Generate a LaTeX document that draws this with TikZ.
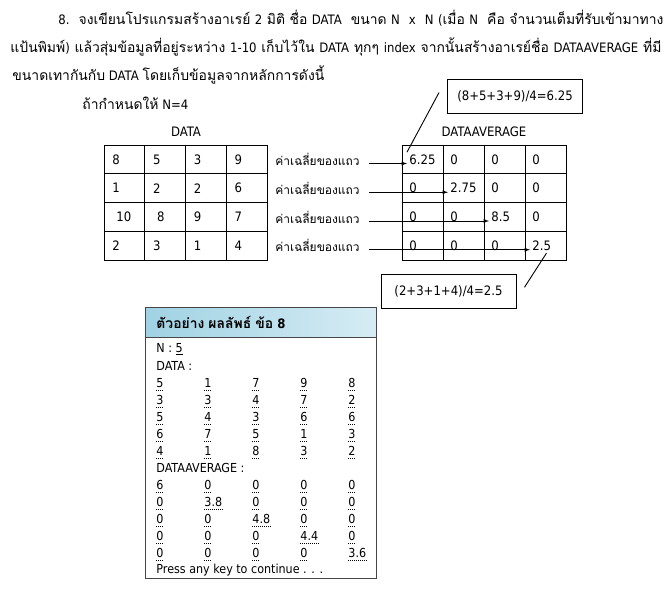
\documentclass[tikz,border=0pt]{standalone}
\usepackage{fontspec}
\setmainfont{DejaVu Sans Condensed}
\newfontfamily\thaibig[Script=Thai, Scale=1.07]{Loma}
\newfontfamily\thaismall[Script=Thai, Scale=0.92]{Loma}
\let\thaifont\thaismall
\XeTeXinterchartokenstate = 1
\newXeTeXintercharclass\thaiclass
\count255 = "0E00
\loop
  \XeTeXcharclass\count255 = \thaiclass
  \ifnum\count255 < "0E7F \advance\count255 by 1
\repeat
\XeTeXinterchartoks 0 \thaiclass = {\begingroup\thaifont}
\XeTeXinterchartoks 4095 \thaiclass = {\begingroup\thaifont}
\XeTeXinterchartoks \thaiclass 0 = {\endgroup}
\XeTeXinterchartoks \thaiclass 4095 = {\endgroup}
\usetikzlibrary{arrows}
\usetikzlibrary{positioning}
\tikzset{para/.style = {anchor = west, inner sep = 0, font = \fontsize{13}{15}\selectfont\let\thaifont\thaibig}}
\tikzset{cell/.style = {anchor = west, inner sep = 2pt}}
\tikzset{rowlab/.style = {anchor = west, inner sep = 0}}
\tikzset{fbox/.style = {draw, minimum width = 135, minimum height = 34, inner sep = 0}}
\tikzset{con/.style = {anchor = west, inner sep = 0, font = \fontsize{12.4}{14}\selectfont}}
\tikzset{dotu/.style = {dash pattern = on 0.8pt off 1.2pt, line width = 0.6pt}}
\definecolor{hblue}{RGB}{160, 210, 227}
\definecolor{hpale}{RGB}{214, 236, 244}
\definecolor{bgray}{RGB}{70, 70, 70}

\begin{document}
\begin{tikzpicture}[x = 1pt, y = -1pt, line width = 0.9pt, font = \fontsize{13}{15}\selectfont]
      \useasboundingbox (0, 0) rectangle (671, 596);
      \node [para] (p1) at (58, 18) {\makebox[605pt][s]{8.\ \ จงเขียนโปรแกรมสร้างอาเรย์ 2 มิติ ชื่อ DATA \ ขนาด N \ x \ N (เมื่อ N \ คือ จำนวนเต็มที่รับเข้ามาทาง}};
      \node [para] (p2) at (10, 47) {\makebox[651pt][s]{แป้นพิมพ์) แล้วสุ่มข้อมูลที่อยู่ระหว่าง 1-10 เก็บไว้ใน DATA ทุกๆ index จากนั้นสร้างอาเรย์ชื่อ DATAAVERAGE ที่มี}};
      \node [para] (p3) at (12, 75) {ขนาดเทากันกับ DATA โดยเก็บข้อมูลจากหลักการดังนี้};
      \node [para] (p4) at (82, 103) {ถ้ากำหนดให้ N=4};

      \node (t1) at (186, 132) {DATA};
      \node (t2) at (484, 132) {DATAAVERAGE};

      \draw (104, 145) rectangle (267, 260);
      \draw (402, 145) rectangle (566, 260);
      \foreach \i in {1, 2, 3} {
        \draw ({104 + 40.75*\i}, 145) -- ({104 + 40.75*\i}, 260);
        \draw (104, {145 + 28.75*\i}) -- (267, {145 + 28.75*\i});
        \draw ({402 + 41*\i}, 145) -- ({402 + 41*\i}, 260);
        \draw (402, {145 + 28.75*\i}) -- (566, {145 + 28.75*\i});
      }

      \foreach \row [count = \r] in {{8,5,3,9},{1,2,2,6},{\hspace{4pt}10,\hspace{4pt}8,9,7},{2,3,1,4}} {
        \foreach \v [count = \c] in \row {
          \node [cell] (d\r\c) at ({110 + 40.75*(\c-1)}, {159.5 + 28.75*(\r-1)}) {\v};
        }
      }
      \foreach \row [count = \r] in {{6.25,0,0,0},{0,2.75,0,0},{0,0,8.5,0},{0,0,0,2.5}} {
        \foreach \v [count = \c] in \row {
          \node [cell] (a\r\c) at ({407 + 41*(\c-1)}, {159.5 + 28.75*(\r-1)}) {\v};
        }
      }

      \foreach \r in {1, 2, 3, 4} {
        \node [rowlab] (l\r) at (275, {159.5 + 28.75*(\r-1)}) {ค่าเฉลี่ยของแถว};
        \coordinate (s\r) at ([xshift = 9, yshift = -4]l\r.east);
        \draw [-latex] (s\r) -- (s\r -| a\r\r.west);
      }

      \node [fbox] (f1) at (515, 96.5) {(8+5+3+9)/4=6.25};
      \node [fbox] (f2) at (448.5, 291.3) {(2+3+1+4)/4=2.5};
      \coordinate (c1) at ([xshift = -8, yshift = 4]f1.west);
      \coordinate (c2) at ([xshift = 8, yshift = 4]f2.east);
      \draw (c1) -- (a11.north west);
      \draw (c2) -- ([xshift = -7]a44.south east);

      \fill [left color = hblue, right color = hpale] (145, 307) rectangle (376, 337);
      \draw [bgray] (145, 337) -- (376, 337);
      \draw [bgray] (145, 307) rectangle (376, 578);
      \node [anchor = west, inner sep = 0, font = \bfseries\fontsize{13}{15}\selectfont\let\thaifont\thaibig] (h) at (156, 322) {ตัวอย่าง ผลลัพธ์ ข้อ 8};
      \node [con] (n) at (156, 349) {N : \underline{5}};
      \node [con] (dl) at (156, 366) {DATA :};
      \foreach \row [count = \r] in {{5,1,7,9,8},{3,3,4,7,2},{5,4,3,6,6},{6,7,5,1,3},{4,1,8,3,2}} {
        \foreach \v [count = \c] in \row {
          \node [con] (o\r\c) at ({108 + 48*\c}, {366 + 17*\r}) {\v};
          \draw [dotu] ([yshift = -2]o\r\c.south west) -- ([yshift = -2]o\r\c.south east);
        }
      }
      \node [con] (al) at (156, 468) {DATAAVERAGE :};
      \foreach \row [count = \r] in {{6,0,0,0,0},{0,3.8,0,0,0},{0,0,4.8,0,0},{0,0,0,4.4,0},{0,0,0,0,3.6}} {
        \foreach \v [count = \c] in \row {
          \node [con] (q\r\c) at ({108 + 48*\c}, {468 + 17*\r}) {\v};
          \draw [dotu] ([yshift = -2]q\r\c.south west) -- ([yshift = -2]q\r\c.south east);
        }
      }
      \node [con] (pk) at (156, 570) {Press any key to continue . . .};
    \end{tikzpicture}
\end{document}
